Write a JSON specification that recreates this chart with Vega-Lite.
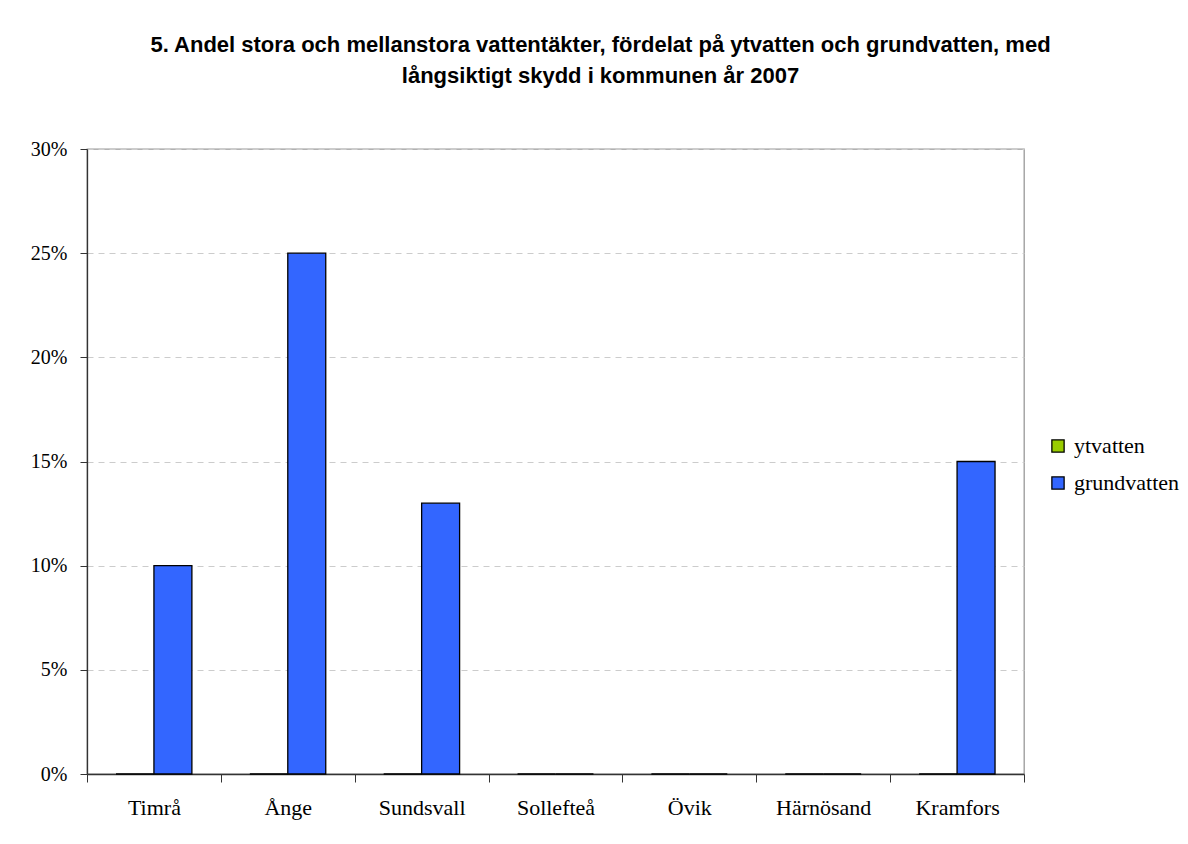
{
  "$schema": "https://vega.github.io/schema/vega-lite/v6.json",
  "autosize": {"type": "none"},
  "width": 937,
  "height": 625,
  "padding": {"left": 87, "top": 149, "right": 164, "bottom": 70},
  "background": "white",
  "title": {
    "text": ["5. Andel stora och mellanstora vattentäkter, fördelat på ytvatten och grundvatten, med", "långsiktigt skydd i kommunen år 2007"],
    "font": "Liberation Sans",
    "fontSize": 22,
    "fontWeight": "bold",
    "color": "black",
    "anchor": "middle",
    "frame": "group",
    "dx": 45,
    "offset": 51,
    "lineHeight": 31
  },
  "data": {
    "values": [
      {"kommun": "Timrå", "serie": "ytvatten", "andel": 0},
      {"kommun": "Timrå", "serie": "grundvatten", "andel": 0.10},
      {"kommun": "Ånge", "serie": "ytvatten", "andel": 0},
      {"kommun": "Ånge", "serie": "grundvatten", "andel": 0.25},
      {"kommun": "Sundsvall", "serie": "ytvatten", "andel": 0},
      {"kommun": "Sundsvall", "serie": "grundvatten", "andel": 0.13},
      {"kommun": "Sollefteå", "serie": "ytvatten", "andel": 0},
      {"kommun": "Sollefteå", "serie": "grundvatten", "andel": 0},
      {"kommun": "Övik", "serie": "ytvatten", "andel": 0},
      {"kommun": "Övik", "serie": "grundvatten", "andel": 0},
      {"kommun": "Härnösand", "serie": "ytvatten", "andel": 0},
      {"kommun": "Härnösand", "serie": "grundvatten", "andel": 0},
      {"kommun": "Kramfors", "serie": "ytvatten", "andel": 0},
      {"kommun": "Kramfors", "serie": "grundvatten", "andel": 0.15}
    ]
  },
  "mark": {"type": "bar", "stroke": "black", "strokeWidth": 1.3},
  "encoding": {
    "x": {
      "field": "kommun",
      "type": "nominal",
      "sort": null,
      "scale": {"paddingInner": 0, "paddingOuter": 0},
      "axis": {
        "title": null,
        "labelAngle": 0,
        "labelFont": "Liberation Serif",
        "labelFontSize": 22,
        "labelColor": "black",
        "labelPadding": 15,
        "tickBand": "extent",
        "tickSize": 8,
        "tickColor": "#333333",
        "domainColor": "#333333",
        "domainWidth": 1.3,
        "grid": false
      }
    },
    "xOffset": {
      "field": "serie",
      "type": "nominal",
      "sort": ["ytvatten", "grundvatten"],
      "scale": {"paddingInner": 0, "paddingOuter": 0.763}
    },
    "y": {
      "field": "andel",
      "type": "quantitative",
      "scale": {"domain": [0, 0.3], "nice": false},
      "axis": {
        "title": null,
        "format": ".0%",
        "values": [0, 0.05, 0.1, 0.15, 0.2, 0.25, 0.3],
        "labelFont": "Liberation Serif",
        "labelFontSize": 20,
        "labelColor": "black",
        "labelPadding": 13,
        "tickSize": 7,
        "tickColor": "#333333",
        "domainColor": "#333333",
        "domainWidth": 1.3,
        "grid": true,
        "gridColor": "#cccccc",
        "gridDash": [6, 5],
        "gridWidth": 1
      }
    },
    "color": {
      "field": "serie",
      "type": "nominal",
      "sort": ["ytvatten", "grundvatten"],
      "scale": {"domain": ["ytvatten", "grundvatten"], "range": ["#99CC00", "#3366FF"]},
      "legend": {
        "title": null,
        "orient": "none",
        "legendX": 960,
        "legendY": 286,
        "symbolType": "square",
        "symbolSize": 150,
        "symbolStrokeColor": "black",
        "symbolStrokeWidth": 1.3,
        "labelFont": "Liberation Serif",
        "labelFontSize": 22,
        "labelColor": "black",
        "labelOffset": 5,
        "rowPadding": 15
      }
    }
  },
  "config": {
    "view": {"stroke": "#999999", "strokeWidth": 1.3}
  }
}
